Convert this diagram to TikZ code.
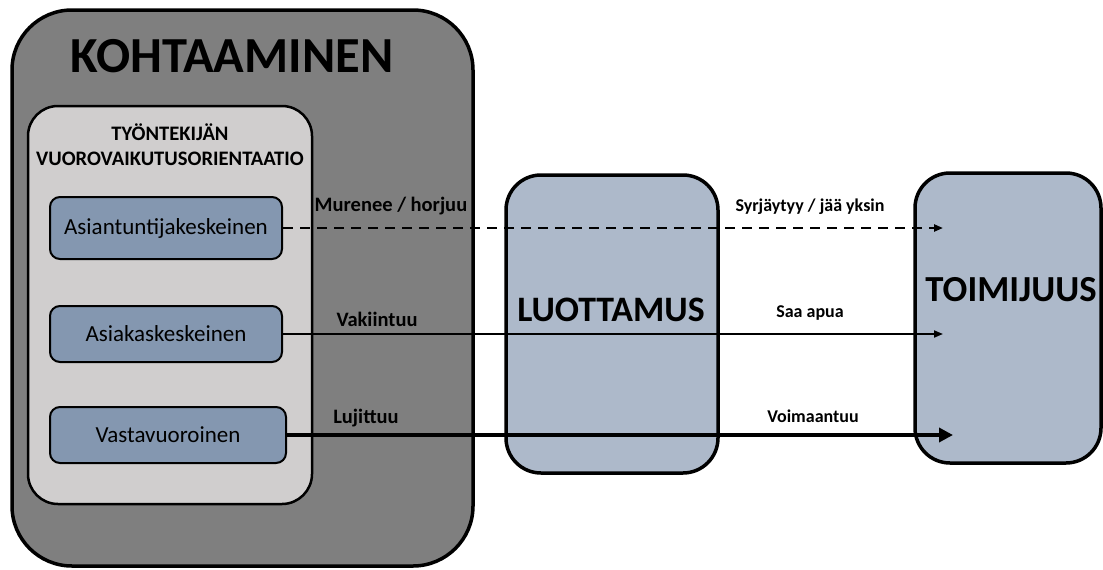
\documentclass[tikz,border=0pt]{standalone}
\usepackage{fontspec}
\setmainfont{Carlito}
\usetikzlibrary{arrows.meta}
\definecolor{outergray}{HTML}{7F7F7F}
\definecolor{innergray}{HTML}{D0CECE}
\definecolor{bluebox}{HTML}{8497B0}
\definecolor{lightblue}{HTML}{ADB9CA}
\newcommand{\fsz}[1]{\fontsize{#1}{1.2\dimexpr#1pt\relax}\selectfont}
\tikzset{
  bigbox/.style={draw=black, line width=3.5pt, rounded corners=#1, inner sep=0pt},
  innerbox/.style={draw=black, line width=2.5pt, fill=innergray, rounded corners=30pt, inner sep=0pt},
  orient/.style={draw=black, line width=2pt, fill=bluebox, rounded corners=10pt, inner sep=0pt, font=\fsz{23}},
  bigtitle/.style={font=\bfseries\fsz{#1}, inner sep=0pt},
  lbl/.style={font=\bfseries\fsz{#1}, inner sep=0pt},
  smalltip/.style={-{Triangle[length=9pt,width=7pt]}},
  bigtip/.style={-{Triangle[length=14pt,width=14pt]}}
}
\begin{document}
\begin{tikzpicture}[x=1pt,y=-1pt]
\useasboundingbox (0,0) rectangle (1103,570);
% boxes
\node[bigbox=60pt, fill=outergray, minimum width=461pt, minimum height=556pt] (kohta) at (242.5,288) {};
\node[bigtitle=50.5] (kohtat) at (232,56) {KOHTAAMINEN};
\node[innerbox, minimum width=284pt, minimum height=398pt] (inner) at (170,305) {};
\node[bigtitle=20.6, align=center] (innert) at (170,145) {TYÖNTEKIJÄN\\VUOROVAIKUTUSORIENTAATIO};
\node[orient, minimum width=232pt, minimum height=62pt] (asi) at (166,228) {Asiantuntijakeskeinen};
\node[orient, minimum width=232pt, minimum height=56pt] (asia) at (166,334) {Asiakaskeskeinen};
\node[orient, minimum width=236pt, minimum height=56pt] (vasta) at (168,435) {Vastavuoroinen};
\node[bigbox=35pt, fill=lightblue, minimum width=212pt, minimum height=298pt] (luot) at (612,324) {};
\node[bigtitle=35.8] (luott) at (611,310) {LUOTTAMUS};
\node[bigbox=35pt, fill=lightblue, minimum width=186pt, minimum height=290pt] (toim) at (1008,318) {};
\node[bigtitle=36.7] (toimt) at (1011,290) {TOIMIJUUS};
% arrow targets
\coordinate (t1) at (943,228);
\coordinate (t2) at (943,334);
\coordinate (t3) at (953,435);
% arrows
\draw[smalltip, line width=2.2pt, dash pattern=on 10pt off 7pt] (asi.east) -- (t1);
\draw[smalltip, line width=1.8pt] (asia.east) -- (t2);
\draw[bigtip, line width=3.5pt] (vasta.east) -- (t3);
% labels
\node[lbl=20.5] (l1) at (391,206) {Murenee / horjuu};
\node[lbl=18] (l2) at (810,207) {Syrjäytyy / jää yksin};
\node[lbl=20.5] (l3) at (377,319) {Vakiintuu};
\node[lbl=18] (l4) at (810,313) {Saa apua};
\node[lbl=20.5] (l5) at (366,418) {Lujittuu};
\node[lbl=18] (l6) at (813,416) {Voimaantuu};
\end{tikzpicture}
\end{document}
